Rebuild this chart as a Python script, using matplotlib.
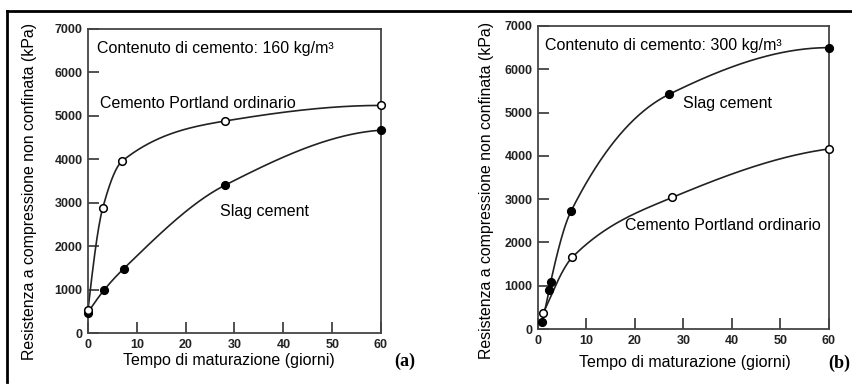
import numpy as np
import matplotlib
matplotlib.use("Agg")
import matplotlib.pyplot as plt
from matplotlib.lines import Line2D

plt.rcParams['font.family'] = ['Liberation Sans', 'DejaVu Sans']

# ---- data ----
days_a_opc = [0, 3, 7, 28, 60]
opc_a = [530, 2870, 3960, 4880, 5240]
days_a_slag = [0, 3.3, 7.3, 28, 60]
slag_a = [470, 990, 1480, 3400, 4670]

days_b_slag = [0.8, 2.3, 2.6, 6.8, 27, 60]
slag_b = [170, 900, 1080, 2720, 5420, 6500]
days_b_opc = [1.1, 7.1, 27.7, 60]
opc_b = [370, 1660, 3040, 4160]

xticks = [0, 10, 20, 30, 40, 50, 60]
yticks = [0, 1000, 2000, 3000, 4000, 5000, 6000, 7000]
xlabel = "Tempo di maturazione (giorni)"
ylabel = "Resistenza a compressione non confinata (kPa)"


def pchip(x, y, n=300):
    x = np.asarray(x, float); y = np.asarray(y, float)
    h = np.diff(x); d = np.diff(y) / h
    m = np.zeros_like(y)
    for k in range(1, len(x) - 1):
        if d[k - 1] * d[k] > 0:
            w1 = 2 * h[k] + h[k - 1]; w2 = h[k] + 2 * h[k - 1]
            m[k] = (w1 + w2) / (w1 / d[k - 1] + w2 / d[k])
    m[0] = ((2 * h[0] + h[1]) * d[0] - h[0] * d[1]) / (h[0] + h[1]) if len(x) > 2 else d[0]
    if np.sign(m[0]) != np.sign(d[0]): m[0] = 0
    m[-1] = ((2 * h[-1] + h[-2]) * d[-1] - h[-1] * d[-2]) / (h[-1] + h[-2]) if len(x) > 2 else d[-1]
    if np.sign(m[-1]) != np.sign(d[-1]): m[-1] = 0
    xs = np.linspace(x[0], x[-1], n)
    idx = np.clip(np.searchsorted(x, xs) - 1, 0, len(x) - 2)
    t = (xs - x[idx]) / h[idx]
    h00 = 2 * t**3 - 3 * t**2 + 1; h10 = t**3 - 2 * t**2 + t
    h01 = -2 * t**3 + 3 * t**2; h11 = t**3 - t**2
    ys = h00 * y[idx] + h10 * h[idx] * m[idx] + h01 * y[idx + 1] + h11 * h[idx] * m[idx + 1]
    return xs, ys


W, H = 853, 385
fig = plt.figure(figsize=(W / 100, H / 100), dpi=100)


def px_axes(l, r, t, b):
    return fig.add_axes([l / W, 1 - b / H, (r - l) / W, (b - t) / H])


def style(ax):
    ax.set_xlim(0, 60)
    ax.set_ylim(0, 7000)
    ax.set_xticks(xticks)
    ax.set_yticks(yticks)
    ax.tick_params(direction='in', length=8, width=1.2, color='#333333',
                   labelsize=9, pad=4)
    for lab in ax.get_xticklabels() + ax.get_yticklabels():
        lab.set_fontweight('bold')
        lab.set_color('#222222')
    for s in ax.spines.values():
        s.set_linewidth(1.3)
        s.set_color('#444444')


def series(ax, x, y, filled):
    xs, ys = pchip(x, y)
    ax.plot(xs, ys, color='#222222', lw=1.2, zorder=2, clip_on=False)
    ax.plot(x, y, 'o', ms=5.5, mec='black', mew=1.1,
            mfc='black' if filled else 'white', zorder=3, clip_on=False)


# panel (a)
axa = px_axes(88, 381, 29, 333)
style(axa)
series(axa, days_a_slag, slag_a, True)
series(axa, days_a_opc, opc_a, False)
axa.text(0.03, 0.935, "Contenuto di cemento: 160 kg/m³", transform=axa.transAxes,
         fontsize=11.5, va='center', ha='left')
axa.text(0.04, 0.755, "Cemento Portland ordinario", transform=axa.transAxes,
         fontsize=11.5, va='center', ha='left')
axa.text(0.45, 0.40, "Slag cement", transform=axa.transAxes,
         fontsize=11.5, va='center', ha='left')
fig.text(229 / W, 1 - 360 / H, xlabel, fontsize=11.5, ha='center', va='center')
fig.text(30 / W, 1 - 191 / H, ylabel, fontsize=11.4, ha='center', va='center', rotation=90)
fig.text(405 / W, 1 - 361 / H, "(a)", fontsize=13, fontweight='bold',
         family='Liberation Serif', ha='center', va='center')

# panel (b)
axb = px_axes(538, 829, 26, 329)
style(axb)
series(axb, days_b_opc, opc_b, False)
series(axb, days_b_slag, slag_b, True)
axb.text(0.025, 0.935, "Contenuto di cemento: 300 kg/m³", transform=axb.transAxes,
         fontsize=11.5, va='center', ha='left')
axb.text(0.50, 0.745, "Slag cement", transform=axb.transAxes,
         fontsize=11.5, va='center', ha='left')
axb.text(0.30, 0.34, "Cemento Portland ordinario", transform=axb.transAxes,
         fontsize=11.5, va='center', ha='left')
fig.text(685 / W, 1 - 363 / H, xlabel, fontsize=11.5, ha='center', va='center')
fig.text(487 / W, 1 - 190 / H, ylabel, fontsize=11.4, ha='center', va='center', rotation=90)
fig.text(839 / W, 1 - 363 / H, "(b)", fontsize=13, fontweight='bold',
         family='Liberation Serif', ha='center', va='center')

# outer frame lines
fig.add_artist(Line2D([7 / W, 1], [1 - 11 / H, 1 - 11 / H], transform=fig.transFigure,
                      color='black', lw=2))
fig.add_artist(Line2D([7 / W, 7 / W], [1 - 11 / H, 1 - 382 / H], transform=fig.transFigure,
                      color='black', lw=2))

fig.savefig("out.png", dpi=100)
